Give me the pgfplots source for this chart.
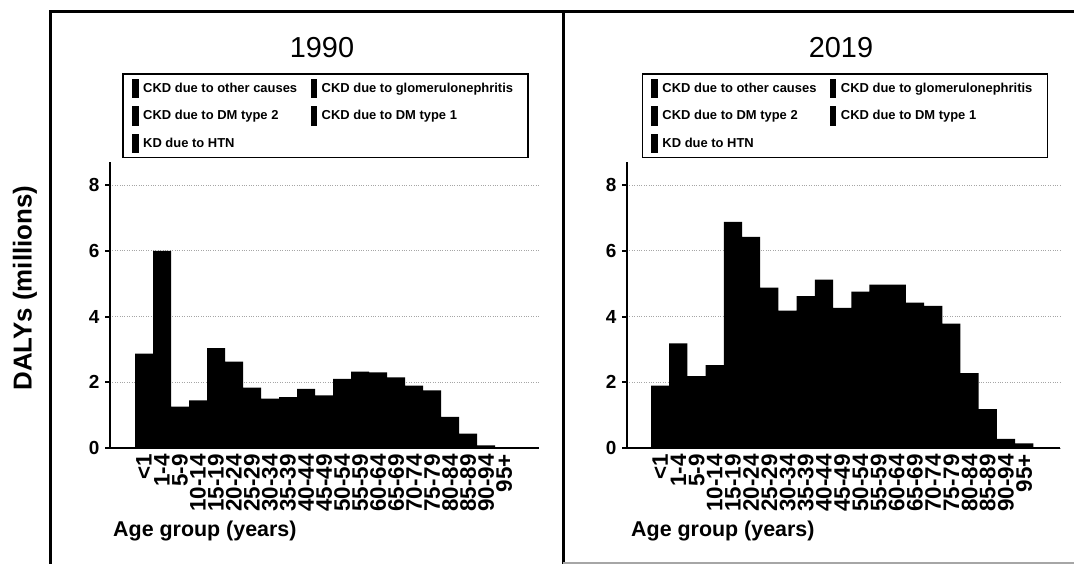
\documentclass[border=0pt]{standalone}
\usepackage{fontspec}
\setmainfont{Liberation Sans}
\usepackage{pgfplots}
\pgfplotsset{compat=1.18}

\pgfplotsset{
  lgimg/.style={legend image code/.code={\fill[black] (0bp,-9bp) rectangle (5bp,9bp);}},
  dalys/.style={
    scale only axis,
    height=286bp,
    ymin=0, ymax=8.7,
    axis x line*=bottom, axis y line*=left,
    axis line style={line width=2.5bp, black},
    ytick={0,2,4,6,8}, yticklabels={0,2,4,6,8},
    y tick label style={font=\bfseries\fontsize{19}{19}\selectfont, xshift=-2bp},
    ytick style={line width=2bp, black},
    tick align=outside, major tick length=5bp,
    xtick={0,...,20},
    xticklabels={<1,1-4,5-9,10-14,15-19,20-24,25-29,30-34,35-39,40-44,45-49,50-54,55-59,60-64,65-69,70-74,75-79,80-84,85-89,90-94,95+},
    xtick style={draw=none},
    x tick label style={rotate=90, anchor=east, font=\bfseries\fontsize{22.5}{22.5}\selectfont, inner sep=1bp},
    ymajorgrids,
    grid style={dotted, gray!70, line width=0.8bp},
    legend columns=2,
    legend cell align=left,
    legend style={draw=black, line width=1.5bp, anchor=north west,
      font=\bfseries\fontsize{13}{15}\selectfont,
      inner xsep=9bp, inner ysep=4.5bp, row sep=8bp,
      nodes={inner sep=1.5bp},
      /tikz/every odd column/.append style={column sep=3bp},
      /tikz/every even column/.append style={column sep=6bp}},
  }
}

\begin{document}
\begin{tikzpicture}[x=1bp,y=1bp]
\useasboundingbox (0,0) rectangle (1074,564);
% outer frame
\draw[line width=3bp] (50,0) -- (50,552) -- (1074,552);
\draw[line width=3bp] (563,0) -- (563,552);
\draw[line width=1.5bp, gray!70] (563,1) -- (1074,1);

\node[rotate=90, font=\bfseries\fontsize{26}{30}\selectfont] at (25,276) {DALYs (millions)};

% ---------- 1990 ----------
\begin{axis}[dalys,
  at={(110bp,116bp)}, anchor=south west,
  width=429bp,
  xmin=-1.889, xmax=21.94,
  legend style={at={(0.029,1.31)}},
]
\addplot[ybar, bar width=1, fill=black, draw=none, forget plot] coordinates {
(0,2.87) (1,6.00) (2,1.26) (3,1.45) (4,3.04) (5,2.63) (6,1.84) (7,1.50) (8,1.55) (9,1.80) (10,1.60)
(11,2.10) (12,2.32) (13,2.30) (14,2.15) (15,1.90) (16,1.75) (17,0.95) (18,0.44) (19,0.08) (20,0.03)};
\addlegendimage{lgimg}\addlegendentry{\makebox[160bp][l]{CKD due to other causes}}
\addlegendimage{lgimg}\addlegendentry{\makebox[196bp][l]{CKD due to glomerulonephritis}}
\addlegendimage{lgimg}\addlegendentry{CKD due to DM type 2}
\addlegendimage{lgimg}\addlegendentry{CKD due to DM type 1}
\addlegendimage{lgimg}\addlegendentry{KD due to HTN}
\end{axis}
\node[font=\fontsize{29}{32}\selectfont, anchor=base] at (322,506) {1990};
\node[font=\bfseries\fontsize{21.5}{24}\selectfont, anchor=base west, inner sep=0pt] at (113,27) {Age group (years)};

% ---------- 2019 ----------
\begin{axis}[dalys,
  at={(627bp,116bp)}, anchor=south west,
  width=433bp,
  xmin=-1.82, xmax=21.97,
  legend style={at={(0.034,1.31)}},
]
\addplot[ybar, bar width=1, fill=black, draw=none, forget plot] coordinates {
(0,1.90) (1,3.18) (2,2.19) (3,2.52) (4,6.88) (5,6.42) (6,4.88) (7,4.18) (8,4.62) (9,5.12) (10,4.26)
(11,4.76) (12,4.97) (13,4.97) (14,4.42) (15,4.32) (16,3.78) (17,2.28) (18,1.18) (19,0.28) (20,0.14)};
\addlegendimage{lgimg}\addlegendentry{\makebox[160bp][l]{CKD due to other causes}}
\addlegendimage{lgimg}\addlegendentry{\makebox[196bp][l]{CKD due to glomerulonephritis}}
\addlegendimage{lgimg}\addlegendentry{CKD due to DM type 2}
\addlegendimage{lgimg}\addlegendentry{CKD due to DM type 1}
\addlegendimage{lgimg}\addlegendentry{KD due to HTN}
\end{axis}
\node[font=\fontsize{29}{32}\selectfont, anchor=base] at (841,506) {2019};
\node[font=\bfseries\fontsize{21.5}{24}\selectfont, anchor=base west, inner sep=0pt] at (631,27) {Age group (years)};
\end{tikzpicture}
\end{document}
